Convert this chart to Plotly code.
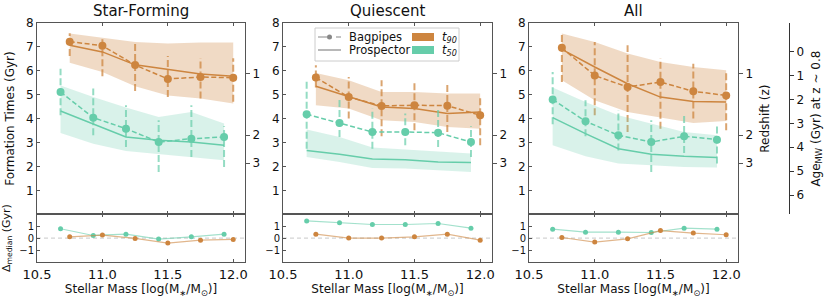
import plotly.graph_objects as go

# ---------------- data ----------------
panel_titles = ["Star-Forming", "Quiescent", "All"]
mass_t90 = [10.75, 11.0, 11.25, 11.5, 11.75, 12.0]
mass_t50 = [10.68, 10.93, 11.18, 11.43, 11.68, 11.93]

# Star-forming
sf_bp_t90 = [7.22, 7.05, 6.24, 5.66, 5.74, 5.71]
sf_bp_t90_hi = [7.57, 7.35, 7.19, 6.62, 6.53, 6.53]
sf_bp_t90_lo = [6.62, 5.77, 5.15, 4.90, 4.84, 4.70]
sf_pr_t90 = [7.07, 6.79, 6.25, 6.05, 5.87, 5.77]
sf_pr_t90_hi = [7.56, 7.39, 7.20, 7.14, 7.18, 7.18]
sf_pr_t90_lo = [6.34, 5.95, 5.35, 4.97, 4.84, 4.63]
sf_bp_t50 = [5.11, 4.04, 3.58, 3.02, 3.16, 3.23]
sf_bp_t50_hi = [6.09, 5.26, 4.56, 3.93, 4.56, 3.68]
sf_bp_t50_lo = [4.14, 3.30, 2.81, 1.77, 2.39, 1.98]
sf_pr_t50 = [4.32, 3.79, 3.23, 3.09, 3.02, 2.88]
sf_pr_t50_hi = [5.39, 4.90, 4.46, 4.07, 4.28, 3.79]
sf_pr_t50_lo = [3.40, 2.95, 2.64, 2.51, 2.39, 2.26]
sf_d50 = [0.78, 0.22, 0.33, -0.08, 0.11, 0.33]
sf_d90 = [0.11, 0.25, -0.03, -0.42, -0.17, -0.11]

# Quiescent
q_bp_t90 = [5.72, 4.90, 4.53, 4.56, 4.54, 4.14]
q_bp_t90_hi = [6.23, 5.74, 5.60, 5.60, 5.46, 4.90]
q_bp_t90_lo = [5.30, 4.00, 3.26, 3.51, 3.44, 2.88]
q_pr_t90 = [5.35, 4.93, 4.49, 4.42, 4.21, 4.28]
q_pr_t90_hi = [5.91, 5.60, 5.11, 5.11, 5.05, 5.05]
q_pr_t90_lo = [4.56, 4.42, 3.93, 3.86, 3.65, 3.58]
q_bp_t50 = [4.18, 3.82, 3.44, 3.44, 3.41, 3.02]
q_bp_t50_hi = [5.60, 4.90, 4.42, 4.21, 4.42, 3.68]
q_bp_t50_lo = [2.74, 3.23, 2.74, 2.88, 2.81, 2.39]
q_pr_t50 = [2.67, 2.51, 2.31, 2.28, 2.18, 2.16]
q_pr_t50_hi = [3.54, 3.23, 2.79, 2.70, 2.60, 2.54]
q_pr_t50_lo = [2.39, 2.18, 1.93, 1.91, 1.84, 1.77]
q_d50 = [1.44, 1.28, 1.14, 1.14, 1.22, 0.83]
q_d90 = [0.33, 0.00, 0.00, 0.11, 0.33, -0.17]

# All
a_bp_t90 = [6.96, 5.80, 5.32, 5.53, 5.14, 4.97]
a_bp_t90_hi = [7.56, 7.20, 7.07, 6.51, 6.30, 6.02]
a_bp_t90_lo = [5.53, 4.14, 3.44, 3.58, 4.00, 3.51]
a_pr_t90 = [6.90, 6.16, 5.46, 4.90, 4.72, 4.69]
a_pr_t90_hi = [7.56, 7.20, 6.72, 6.37, 6.16, 6.02]
a_pr_t90_lo = [5.60, 4.77, 4.28, 4.04, 3.82, 3.90]
a_bp_t50 = [4.80, 3.89, 3.30, 3.02, 3.26, 3.12]
a_bp_t50_hi = [5.95, 4.77, 4.35, 3.93, 4.21, 3.68]
a_bp_t50_lo = [3.76, 3.26, 2.67, 1.77, 2.56, 2.12]
a_pr_t50 = [4.04, 3.37, 2.74, 2.51, 2.42, 2.37]
a_pr_t50_hi = [5.30, 4.69, 4.14, 3.79, 3.44, 3.30]
a_pr_t50_lo = [2.88, 2.42, 2.12, 2.05, 1.98, 1.95]
a_d50 = [0.75, 0.50, 0.50, 0.47, 0.83, 0.75]
a_d90 = [0.05, -0.33, -0.06, 0.63, 0.42, 0.28]

# secondary axes ticks
z_tick_labels = ["1", "2", "3"]
z_tick_times = [5.87, 3.31, 2.14]
age_ticks = [0, 1, 2, 3, 4, 5, 6]
age_of_universe_z08 = 6.8

panels = [
    (sf_bp_t90, sf_bp_t90_hi, sf_bp_t90_lo, sf_pr_t90, sf_pr_t90_hi, sf_pr_t90_lo,
     sf_bp_t50, sf_bp_t50_hi, sf_bp_t50_lo, sf_pr_t50, sf_pr_t50_hi, sf_pr_t50_lo, sf_d50, sf_d90),
    (q_bp_t90, q_bp_t90_hi, q_bp_t90_lo, q_pr_t90, q_pr_t90_hi, q_pr_t90_lo,
     q_bp_t50, q_bp_t50_hi, q_bp_t50_lo, q_pr_t50, q_pr_t50_hi, q_pr_t50_lo, q_d50, q_d90),
    (a_bp_t90, a_bp_t90_hi, a_bp_t90_lo, a_pr_t90, a_pr_t90_hi, a_pr_t90_lo,
     a_bp_t50, a_bp_t50_hi, a_bp_t50_lo, a_pr_t50, a_pr_t50_hi, a_pr_t50_lo, a_d50, a_d90),
]

# ---------------- style ----------------
ORANGE = "rgb(205,133,63)"
TEAL = "rgb(102,205,170)"
ORANGE_BAND = "rgba(205,133,63,0.3)"
TEAL_BAND = "rgba(102,205,170,0.25)"
ORANGE_ERR = "rgba(205,133,63,0.75)"
TEAL_ERR = "rgba(102,205,170,0.7)"
ORANGE_D = "rgba(205,133,63,0.6)"
TEAL_D = "rgba(102,205,170,0.6)"
FONT = "DejaVu Sans"
AXC = "#555555"

W, H = 830, 302
ML, MR, MT, MB = 37, 30, 23, 40
PW = W - ML - MR
PH = H - MT - MB


def px(xp):
    return (xp - ML) / PW


def py(yp):
    return (H - MB - yp) / PH


x_domains = [[px(37), px(245)], [px(283), px(492)], [px(529), px(738)]]
XR = [10.5, 12.09]

fig = go.Figure()


def errbars(xs, lo, hi):
    ex, ey = [], []
    for xv, l, h in zip(xs, lo, hi):
        ex += [xv, xv, None]
        ey += [l, h, None]
    return ex, ey


for i, p in enumerate(panels):
    (bp90, bp90h, bp90l, pr90, pr90h, pr90l,
     bp50, bp50h, bp50l, pr50, pr50h, pr50l, d50, d90) = p
    xa = "x" if i == 0 else f"x{i+1}"
    ya = "y" if i == 0 else f"y{i+1}"
    xb = f"x{i+4}"
    yb = f"y{i+4}"
    for (xs, bph, bpl, bpv, prv, prh, prl, col, band, errc) in [
        (mass_t90, bp90h, bp90l, bp90, pr90, pr90h, pr90l, ORANGE, ORANGE_BAND, ORANGE_ERR),
        (mass_t50, bp50h, bp50l, bp50, pr50, pr50h, pr50l, TEAL, TEAL_BAND, TEAL_ERR),
    ]:
        fig.add_trace(go.Scatter(x=xs, y=prl, mode="lines", line=dict(width=0, color=band),
                                 xaxis=xa, yaxis=ya, showlegend=False, hoverinfo="skip"))
        fig.add_trace(go.Scatter(x=xs, y=prh, mode="lines", line=dict(width=0, color=band),
                                 fill="tonexty", fillcolor=band,
                                 xaxis=xa, yaxis=ya, showlegend=False, hoverinfo="skip"))
        fig.add_trace(go.Scatter(x=xs, y=prv, mode="lines", line=dict(width=1.5, color=col),
                                 xaxis=xa, yaxis=ya, showlegend=False))
        ex, ey = errbars(xs, bpl, bph)
        fig.add_trace(go.Scatter(x=ex, y=ey, mode="lines",
                                 line=dict(width=2, color=errc, dash="7px,3px"),
                                 xaxis=xa, yaxis=ya, showlegend=False, hoverinfo="skip"))
        fig.add_trace(go.Scatter(x=xs, y=bpv, mode="lines+markers",
                                 line=dict(width=1.5, color=col, dash="5px,2.5px"),
                                 marker=dict(size=8, color=col),
                                 xaxis=xa, yaxis=ya, showlegend=False))
    fig.add_trace(go.Scatter(x=mass_t50, y=d50, mode="lines+markers",
                             line=dict(width=1.2, color=TEAL_D),
                             marker=dict(size=5, color=TEAL),
                             xaxis=xb, yaxis=yb, showlegend=False))
    fig.add_trace(go.Scatter(x=mass_t90, y=d90, mode="lines+markers",
                             line=dict(width=1.2, color=ORANGE_D),
                             marker=dict(size=5, color=ORANGE),
                             xaxis=xb, yaxis=yb, showlegend=False))
    fig.add_shape(type="line", xref=f"{xb} domain", yref=yb, x0=0, x1=1, y0=0, y1=0,
                  line=dict(color="#c8c8c8", width=1, dash="4px,3px"), layer="below")
    fig.add_trace(go.Scatter(x=[None], y=[None], xaxis=xa, yaxis=f"y{i+7}",
                             showlegend=False, hoverinfo="skip"))

fig.add_trace(go.Scatter(x=[None], y=[None], xaxis="x3", yaxis="y10",
                         showlegend=False, hoverinfo="skip"))

tickfont = dict(family=FONT, size=12, color="#111")
small_tick = dict(family=FONT, size=10, color="#111")

layout = dict(
    template="none",
    width=W, height=H,
    margin=dict(l=ML, r=MR, t=MT, b=MB, autoexpand=False),
    paper_bgcolor="white", plot_bgcolor="white",
    font=dict(family=FONT, color="#111"),
    showlegend=False,
)

main_dom = [0.2, 1.0]
bot_dom = [0.0, 0.2]
for i in range(3):
    sfx = "" if i == 0 else str(i + 1)
    layout[f"xaxis{sfx}"] = dict(domain=x_domains[i], range=XR, anchor=f"y{sfx}",
                                 showticklabels=False, ticks="inside", ticklen=3,
                                 tickvals=[10.5, 11.0, 11.5, 12.0], mirror="ticks",
                                 showline=True, linecolor=AXC, linewidth=1,
                                 showgrid=False, zeroline=False, tickcolor=AXC, automargin=False)
    layout[f"yaxis{sfx}"] = dict(domain=main_dom, range=[0, 8], anchor=f"x{sfx}",
                                 tickvals=[1, 2, 3, 4, 5, 6, 7, 8], ticks="inside", ticklen=3,
                                 tickfont=tickfont, showline=True, mirror=True,
                                 linecolor=AXC, linewidth=1, tickcolor=AXC,
                                 showgrid=False, zeroline=False, automargin=False)
    layout[f"xaxis{i+4}"] = dict(domain=x_domains[i], range=XR, anchor=f"y{i+4}",
                                 tickvals=[10.5, 11.0, 11.5, 12.0], tickformat=".1f",
                                 ticks="inside", ticklen=3, mirror="ticks",
                                 tickfont=dict(family=FONT, size=13, color="#111"),
                                 showline=True, linecolor=AXC, linewidth=1, tickcolor=AXC,
                                 showgrid=False, zeroline=False, automargin=False,
                                 title=dict(text="Stellar Mass [log(M<sub>∗</sub>/M<sub>⊙</sub>)]",
                                            font=dict(family=FONT, size=12, color="#111"),
                                            standoff=4))
    layout[f"yaxis{i+4}"] = dict(domain=bot_dom, range=[-2, 2], anchor=f"x{i+4}",
                                 tickvals=[-1, 0, 1], ticktext=["−1", "0", "1"],
                                 ticks="inside", ticklen=3, mirror=True,
                                 tickfont=small_tick, showline=True, linecolor=AXC,
                                 linewidth=1, tickcolor=AXC, showgrid=False, zeroline=False,
                                 automargin=False)
    layout[f"yaxis{i+7}"] = dict(overlaying=f"y{sfx}", anchor=f"x{sfx}", side="right",
                                 range=[0, 8], tickvals=z_tick_times, ticktext=z_tick_labels,
                                 ticks="outside", ticklen=4, tickcolor=AXC,
                                 tickfont=tickfont, showline=False, showgrid=False,
                                 zeroline=False, automargin=False)

layout["yaxis9"]["title"] = dict(text="Redshift (z)", font=dict(family=FONT, size=12, color="#111"),
                                 standoff=8)
layout["yaxis"]["title"] = dict(text="Formation Times (Gyr)",
                                font=dict(family=FONT, size=12, color="#111"), standoff=8)
layout["yaxis4"]["title"] = dict(text="Δ<sub>median</sub> (Gyr)",
                                 font=dict(family=FONT, size=11, color="#111"), standoff=10)

layout["yaxis10"] = dict(overlaying="y3", anchor="free", position=px(789), side="right",
                         range=[age_of_universe_z08, age_of_universe_z08 - 8],
                         tickvals=age_ticks, ticks="outside", ticklen=4, tickcolor="#333",
                         tickfont=tickfont, showline=True, linecolor="#333", linewidth=1,
                         showgrid=False, zeroline=False, automargin=False,
                         title=dict(text="Age<sub>MW</sub> (Gyr) at z ~ 0.8",
                                    font=dict(family=FONT, size=12, color="#111"), standoff=8))

fig.update_layout(**layout)

for i, t in enumerate(panel_titles):
    fig.add_annotation(text=t, x=sum(x_domains[i]) / 2, y=py(11), xref="paper", yref="paper",
                       xanchor="center", yanchor="middle",
                       showarrow=False, font=dict(family=FONT, size=15, color="#111"))

# legend (in Quiescent panel)
fig.add_shape(type="rect", xref="paper", yref="paper", x0=px(315), x1=px(459), y0=py(61), y1=py(28),
              line=dict(color="#cccccc", width=1), fillcolor="rgba(255,255,255,0.85)")
for yy, dash, lab in [(37, "dash", "Bagpipes"), (50, "solid", "Prospector")]:
    fig.add_shape(type="line", xref="paper", yref="paper", x0=px(318), x1=px(341), y0=py(yy), y1=py(yy),
                  line=dict(color="#888888", width=1.2, dash=dash))
    fig.add_annotation(text=lab, x=px(347), y=py(yy), xref="paper", yref="paper",
                       xanchor="left", yanchor="middle",
                       showarrow=False, font=dict(family=FONT, size=11.5, color="#111"))
fig.add_shape(type="circle", xref="paper", yref="paper", x0=px(327), x1=px(332), y0=py(39.5), y1=py(34.5),
              line=dict(color="#888888", width=0), fillcolor="#888888")
for yy, col, lab in [(37, ORANGE, "t<sub>90</sub>"), (50, TEAL, "t<sub>50</sub>")]:
    fig.add_shape(type="rect", xref="paper", yref="paper", x0=px(412), x1=px(434), y0=py(yy + 4),
                  y1=py(yy - 4), line=dict(color=col, width=0), fillcolor=col)
    fig.add_annotation(text="<i>" + lab + "</i>", x=px(440), y=py(yy), xref="paper", yref="paper",
                       xanchor="left", yanchor="middle",
                       showarrow=False, font=dict(family=FONT, size=11.5, color="#111"))

fig.write_html("out.html", config={"displayModeBar": False},
               post_script="document.body.style.margin='0';")
